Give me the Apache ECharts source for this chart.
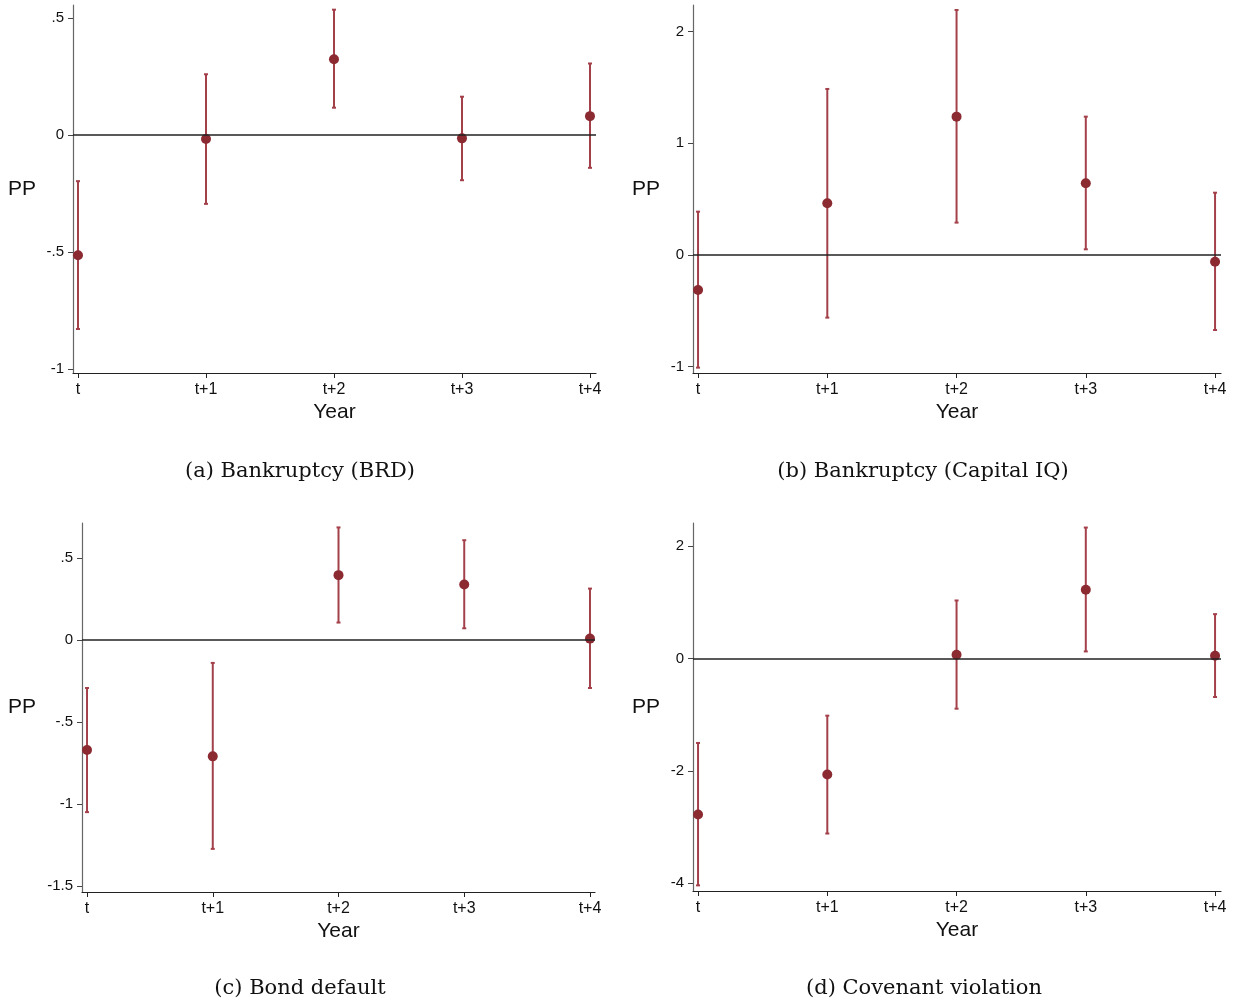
<!DOCTYPE html>
<html>
<head>
<meta charset="utf-8">
<script src="https://cdn.jsdelivr.net/npm/echarts@6/dist/echarts.min.js"></script>
<style>
  html, body { margin: 0; padding: 0; background: #fff; }
  #chart { width: 1237px; height: 1007px; }
</style>
</head>
<body>
<div id="chart"></div>
<script>
// Event-time labels shared by all four panels
const years = ['t', 't+1', 't+2', 't+3', 't+4'];
const yearPos = [0, 1, 2, 3, 4];

// (a) Bankruptcy (BRD)
const brdCoef  = [-0.514, -0.017, 0.324, -0.014, 0.081];
const brdLow   = [-0.829, -0.294, 0.117, -0.193, -0.140];
const brdHigh  = [-0.197, 0.260, 0.536, 0.164, 0.306];
const brdTicks = [-1, -0.5, 0, 0.5];

// (b) Bankruptcy (Capital IQ)
const ciqCoef  = [-0.313, 0.463, 1.239, 0.642, -0.060];
const ciqLow   = [-1.009, -0.561, 0.290, 0.051, -0.672];
const ciqHigh  = [0.388, 1.487, 2.194, 1.239, 0.558];
const ciqTicks = [-1, 0, 1, 2];

// (c) Bond default
const bondCoef  = [-0.671, -0.710, 0.395, 0.338, 0.008];
const bondLow   = [-1.050, -1.274, 0.106, 0.071, -0.293];
const bondHigh  = [-0.293, -0.140, 0.686, 0.608, 0.313];
const bondTicks = [-1.5, -1, -0.5, 0, 0.5];

// (d) Covenant violation
const covCoef  = [-2.779, -2.068, 0.065, 1.221, 0.047];
const covLow   = [-4.040, -3.117, -0.895, 0.124, -0.687];
const covHigh  = [-1.505, -1.019, 1.031, 2.329, 0.788];
const covTicks = [-4, -2, 0, 2];

const captions = ['(a) Bankruptcy (BRD)', '(b) Bankruptcy (Capital IQ)', '(c) Bond default', '(d) Covenant violation'];

const panels = [
  { coef: brdCoef,  lo: brdLow,  hi: brdHigh,  ticks: brdTicks,  yMin: -1.017, yMax: 0.556,
    grid: { left: 73,  top: 5,   width: 523, height: 368 }, xMin: -0.039, xMax: 4.047, nameGap: 37, cap: [300, 472] },
  { coef: ciqCoef,  lo: ciqLow,  hi: ciqHigh,  ticks: ciqTicks,  yMin: -1.057, yMax: 2.239,
    grid: { left: 693, top: 5,   width: 528, height: 368 }, xMin: -0.039, xMax: 4.046, nameGap: 33, cap: [923, 472] },
  { coef: bondCoef, lo: bondLow, hi: bondHigh, ticks: bondTicks, yMin: -1.537, yMax: 0.713,
    grid: { left: 82,  top: 523, width: 513, height: 369 }, xMin: -0.040, xMax: 4.040, nameGap: 46, cap: [300, 989] },
  { coef: covCoef,  lo: covLow,  hi: covHigh,  ticks: covTicks,  yMin: -4.14,  yMax: 2.41,
    grid: { left: 693, top: 523, width: 528, height: 368 }, xMin: -0.039, xMax: 4.046, nameGap: 33, cap: [924, 989] }
];

const DOT = '#8c2a32';
const BAR = '#a3404a';
const SANS = '"Liberation Sans", Arial, sans-serif';
const SERIF = '"DejaVu Serif", "Liberation Serif", serif';

// Stata-style numbers: ".5", "-.5"
function fmtNum(v) {
  let s = String(Math.round(v * 100) / 100);
  return s.replace(/^(-?)0\./, '$1.');
}

const grids = [], xAxes = [], yAxes = [], series = [], graphics = [];

panels.forEach((p, i) => {
  grids.push(Object.assign({ containLabel: false }, p.grid));

  xAxes.push({
    type: 'value', gridIndex: i, min: p.xMin, max: p.xMax,
    name: 'Year', nameLocation: 'middle', nameGap: 29,
    nameTextStyle: { fontFamily: SANS, fontSize: 21, color: '#111' },
    axisLine: { show: true, onZero: false, lineStyle: { color: '#222', width: 1.2 } },
    axisTick: { show: true, customValues: yearPos, length: 5, lineStyle: { color: '#222' } },
    axisLabel: { customValues: yearPos, formatter: v => years[Math.round(v)], fontFamily: SANS, fontSize: 16, color: '#111', margin: 9 },
    splitLine: { show: false }
  });

  yAxes.push({
    type: 'value', gridIndex: i, min: p.yMin, max: p.yMax,
    name: 'PP', nameLocation: 'middle', nameRotate: 0, nameGap: p.nameGap,
    nameTextStyle: { fontFamily: SANS, fontSize: 21, color: '#111' },
    axisLine: { show: true, onZero: false, lineStyle: { color: '#666', width: 1.2 } },
    axisTick: { show: true, customValues: p.ticks, length: 5, lineStyle: { color: '#444' } },
    axisLabel: { customValues: p.ticks, formatter: fmtNum, fontFamily: SANS, fontSize: 15, color: '#111', margin: 9 },
    splitLine: { show: false }
  });

  // confidence intervals
  series.push({
    type: 'custom', xAxisIndex: i, yAxisIndex: i, z: 2,
    data: yearPos.map((x, k) => [x, p.lo[k], p.hi[k]]),
    renderItem: (params, api) => {
      const top = api.coord([api.value(0), api.value(2)]);
      const bot = api.coord([api.value(0), api.value(1)]);
      const w = 2;
      const st = { stroke: BAR, lineWidth: 2 };
      return {
        type: 'group',
        children: [
          { type: 'line', shape: { x1: top[0], y1: top[1], x2: bot[0], y2: bot[1] }, style: st },
          { type: 'line', shape: { x1: top[0] - w, y1: top[1], x2: top[0] + w, y2: top[1] }, style: st },
          { type: 'line', shape: { x1: bot[0] - w, y1: bot[1], x2: bot[0] + w, y2: bot[1] }, style: st }
        ]
      };
    }
  });

  // point estimates + zero reference line
  series.push({
    type: 'scatter', xAxisIndex: i, yAxisIndex: i, z: 3,
    symbol: 'circle', symbolSize: 10,
    itemStyle: { color: DOT, opacity: 1 },
    data: yearPos.map((x, k) => [x, p.coef[k]]),
    markLine: {
      silent: true, symbol: 'none', label: { show: false },
      lineStyle: { color: '#222', width: 1.5, type: 'solid' },
      data: [{ yAxis: 0 }]
    }
  });

  graphics.push({
    type: 'text', x: p.cap[0], y: p.cap[1],
    style: { text: captions[i], font: '21px ' + SERIF, fill: '#111', textAlign: 'center', textVerticalAlign: 'middle' }
  });
});

const chart = echarts.init(document.getElementById('chart'), null, { renderer: 'canvas' });
chart.setOption({
  animation: false,
  backgroundColor: '#fff',
  grid: grids,
  xAxis: xAxes,
  yAxis: yAxes,
  series: series,
  graphic: graphics
});
</script>
</body>
</html>
